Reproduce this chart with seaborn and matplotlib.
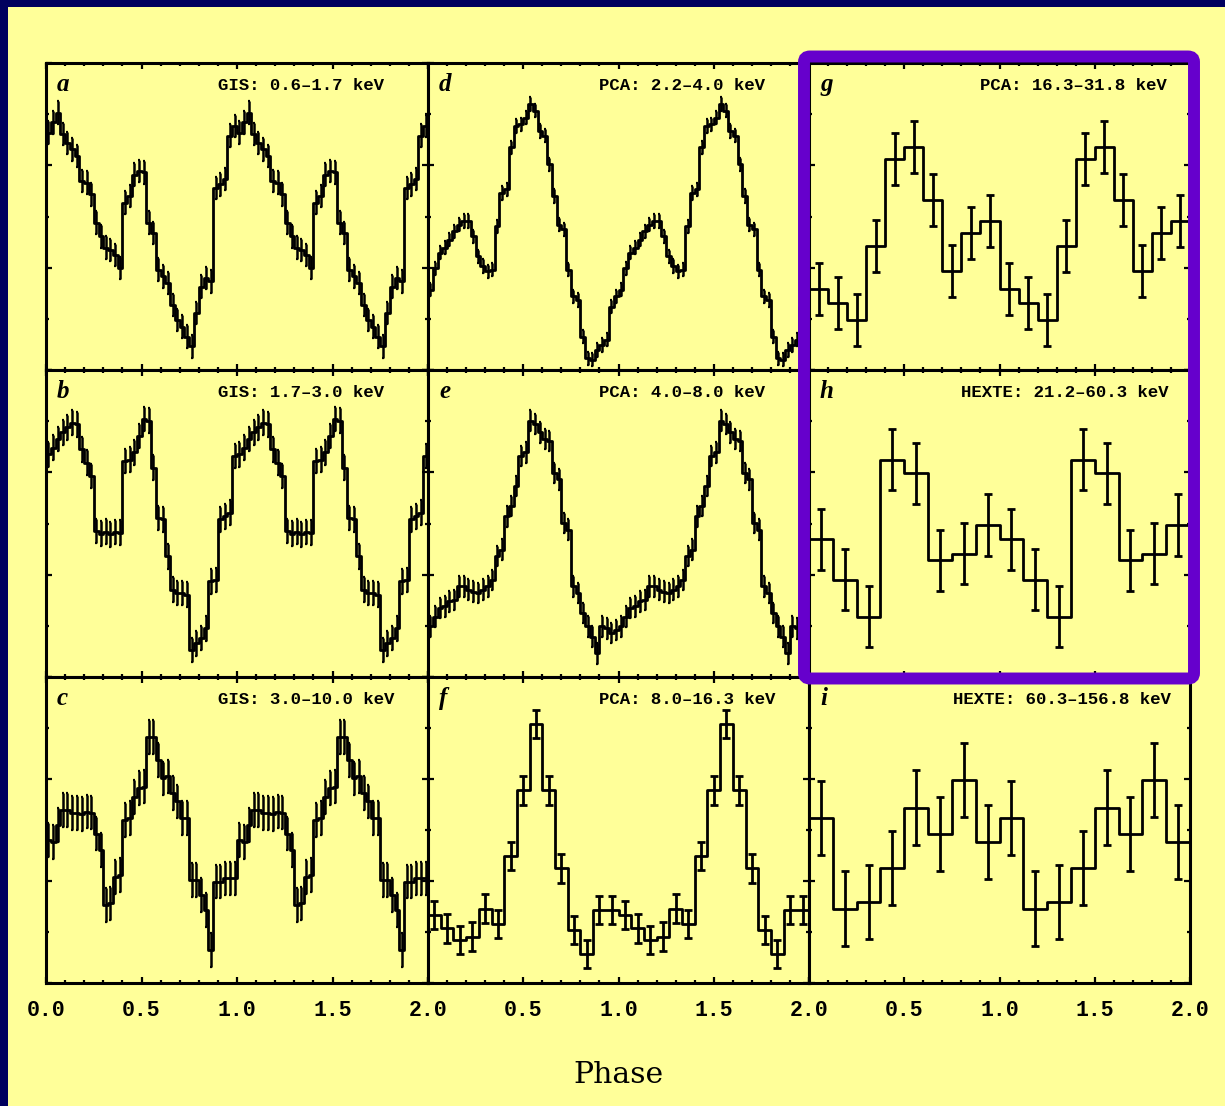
import numpy as np
import pandas as pd
import matplotlib
matplotlib.use("Agg")
import matplotlib.pyplot as plt
from matplotlib.patches import Rectangle, FancyBboxPatch
from matplotlib.ticker import MultipleLocator, FuncFormatter
import seaborn as sns

# Pulse profiles: one cycle per energy band (normalised rate, arbitrary units).
# Each profile is shown over two cycles (phase 0-2).
rate_a = [4.64, 4.84, 5.03, 4.61, 4.44, 4.31, 4.18, 3.69, 3.66, 3.43,
          2.88, 2.61, 2.39, 2.35, 2.25, 1.99, 3.27, 3.40, 3.82, 3.89,
          3.86, 2.88, 2.68, 1.96, 1.83, 1.70, 1.27, 0.98, 0.85, 0.65,
          0.46, 1.11, 1.63, 1.80, 1.73, 3.56, 3.63, 3.73, 4.58, 4.77]
rate_b = [4.35, 4.48, 4.65, 4.78, 4.88, 4.97, 4.94, 4.45, 4.19, 3.93,
          2.85, 2.80, 2.84, 2.79, 2.83, 2.82, 4.22, 4.25, 4.39, 4.71,
          5.04, 5.01, 4.09, 3.11, 3.08, 2.36, 1.71, 1.64, 1.64, 1.61,
          0.53, 0.66, 0.76, 0.95, 1.87, 1.90, 3.08, 3.14, 3.21, 4.32]
rate_c = [2.80, 2.77, 3.10, 3.39, 3.39, 3.33, 3.33, 3.31, 3.36, 3.34,
          2.93, 2.61, 1.53, 1.56, 2.08, 2.12, 3.20, 3.23, 3.65, 3.82,
          3.85, 4.83, 4.83, 4.37, 4.01, 4.05, 3.72, 3.56, 3.23, 3.23,
          2.02, 2.02, 1.73, 1.43, 0.65, 1.99, 1.99, 2.05, 2.05, 2.05]
rate_d = [1.57, 1.99, 2.29, 2.39, 2.55, 2.71, 2.84, 2.91, 2.91, 2.61,
          2.22, 2.03, 1.93, 1.96, 2.81, 3.46, 3.53, 4.35, 4.77, 4.80,
          4.93, 5.20, 5.07, 4.67, 4.58, 4.02, 3.40, 2.84, 2.75, 1.96,
          1.44, 1.37, 0.65, 0.23, 0.20, 0.39, 0.49, 0.59, 1.24, 1.44]
rate_e = [0.99, 1.18, 1.35, 1.38, 1.48, 1.51, 1.77, 1.77, 1.71, 1.67,
          1.64, 1.71, 1.77, 1.90, 2.36, 2.49, 3.14, 3.34, 3.73, 4.32,
          4.39, 5.01, 4.94, 4.78, 4.65, 4.61, 3.99, 3.86, 3.01, 2.88,
          1.77, 1.64, 1.25, 0.99, 0.79, 0.46, 0.99, 0.95, 0.86, 0.92]
rate_f = [1.33, 1.07, 0.84, 0.91, 1.46, 1.16, 2.49, 3.78, 5.08, 3.78,
          2.25, 1.04, 0.57, 1.43, 1.43]
rate_g = [1.58, 1.31, 0.98, 2.43, 4.12, 4.36, 3.33, 1.93, 2.68, 2.91]
rate_h = [2.69, 1.90, 1.18, 4.25, 3.98, 2.28, 2.41, 2.97]
rate_i = [3.24, 1.46, 1.59, 2.25, 3.44, 2.92, 3.98, 2.76]

# 1-sigma uncertainty per band
err_a, err_b, err_c = 0.22, 0.24, 0.33
err_d, err_e, err_f = 0.13, 0.20, 0.28
err_g, err_h, err_i = 0.51, 0.60, 0.73

letters = ["a", "b", "c", "d", "e", "f", "g", "h", "i"]
bands = ["GIS: 0.6\u20131.7 keV", "GIS: 1.7\u20133.0 keV", "GIS: 3.0\u201310.0 keV",
         "PCA: 2.2\u20134.0 keV", "PCA: 4.0\u20138.0 keV", "PCA: 8.0\u201316.3 keV",
         "PCA: 16.3\u201331.8 keV", "HEXTE: 21.2\u201360.3 keV", "HEXTE: 60.3\u2013156.8 keV"]

profiles = [rate_a, rate_b, rate_c, rate_d, rate_e, rate_f, rate_g, rate_h, rate_i]
errors = [err_a, err_b, err_c, err_d, err_e, err_f, err_g, err_h, err_i]

YELLOW = "#ffff99"
NAVY = "#00005e"
PURPLE = "#6600cc"

sns.set_theme(style="ticks")
plt.rcParams["font.family"] = ["Liberation Mono", "DejaVu Sans"]

W, H = 1225, 1106
fig = plt.figure(figsize=(W / 100, H / 100), dpi=100, facecolor=YELLOW)
# dark frame on the left and top
fig.add_artist(Rectangle((0, 0), 8 / W, 1, transform=fig.transFigure,
                         facecolor=NAVY, edgecolor="none", zorder=-5))
fig.add_artist(Rectangle((0, 1 - 7 / H), 1, 7 / H, transform=fig.transFigure,
                         facecolor=NAVY, edgecolor="none", zorder=-5))

col_left = [46, 428, 809]
col_right = [428, 809, 1190]
row_top = [63, 370, 677]
row_bot = [370, 677, 983]
title_x = [0.45, 0.45, 0.45, 0.45, 0.45, 0.45, 0.45, 0.40, 0.378]

lw = 2.0
for idx in range(9):
    col, row = divmod(idx, 3)
    l, r = col_left[col], col_right[col]
    t, b = row_top[row], row_bot[row]
    ax = fig.add_axes([l / W, 1 - b / H, (r - l) / W, (b - t) / H])
    ax.set_facecolor(YELLOW)

    cycle = np.asarray(profiles[idx])
    n = len(cycle)
    rates = np.concatenate([cycle, cycle])
    edges = np.linspace(0, 2, 2 * n + 1)
    centers = 0.5 * (edges[:-1] + edges[1:])
    df = pd.DataFrame({"phase": centers, "rate": rates})

    sns.histplot(data=df, x="phase", weights="rate", bins=list(edges),
                 element="step", fill=False, color="black",
                 linewidth=lw, ax=ax)
    dense = n > 20
    ax.errorbar(centers, rates, yerr=errors[idx], fmt="none",
                ecolor="black", elinewidth=1.8 if dense else lw,
                capsize=0.9 if dense else 3.0, capthick=1.6 if dense else lw)

    ax.set_xlim(0, 2)
    ax.set_ylim(0, 6)
    ax.set_xlabel("")
    ax.set_ylabel("")

    for s in ax.spines.values():
        s.set_visible(True)
        s.set_linewidth(2.2)
        s.set_color("black")

    ax.xaxis.set_major_locator(MultipleLocator(0.5))
    ax.xaxis.set_minor_locator(MultipleLocator(0.1))
    ax.yaxis.set_major_locator(MultipleLocator(2))
    ax.yaxis.set_minor_locator(MultipleLocator(1))
    ax.tick_params(which="both", direction="in", top=True, right=True,
                   color="black", width=1.6)
    ax.tick_params(which="major", length=4.5)
    ax.tick_params(which="minor", length=2.2)
    ax.tick_params(axis="y", labelleft=False)

    if row == 2:
        first = col == 0
        ax.xaxis.set_major_formatter(FuncFormatter(
            lambda v, p, first=first: "" if (abs(v) < 1e-9 and not first) else f"{v:.1f}"))
        ax.tick_params(axis="x", labelbottom=True, labelsize=15.5, pad=12.5,
                       labelcolor="black")
        for lab in ax.get_xticklabels():
            lab.set_fontweight("bold")
    else:
        ax.tick_params(axis="x", labelbottom=False)

    ax.text(11 / (r - l), 1 - 28 / (b - t), letters[idx], transform=ax.transAxes,
            ha="left", va="baseline", fontsize=18, fontstyle="italic",
            fontweight="bold", family=["Liberation Serif", "DejaVu Serif"],
            color="black")
    ax.text(title_x[idx], 1 - 27 / (b - t), bands[idx], transform=ax.transAxes,
            ha="left", va="baseline", fontsize=12.5, fontweight="bold",
            color="black")

fig.text(618 / W, 1 - 1075 / H, "Phase", ha="center", va="center",
         fontsize=21.5, family=["DejaVu Serif"], color="black")

# highlight around the two hardest bands
fig.add_artist(FancyBboxPatch((804 / W, 1 - 678.5 / H), 390 / W, 622 / H,
                              boxstyle="round,pad=0,rounding_size=0.005",
                              transform=fig.transFigure, facecolor="none",
                              edgecolor=PURPLE, linewidth=8.6, zorder=10))

fig.savefig("out.png", dpi=100, facecolor=fig.get_facecolor())
